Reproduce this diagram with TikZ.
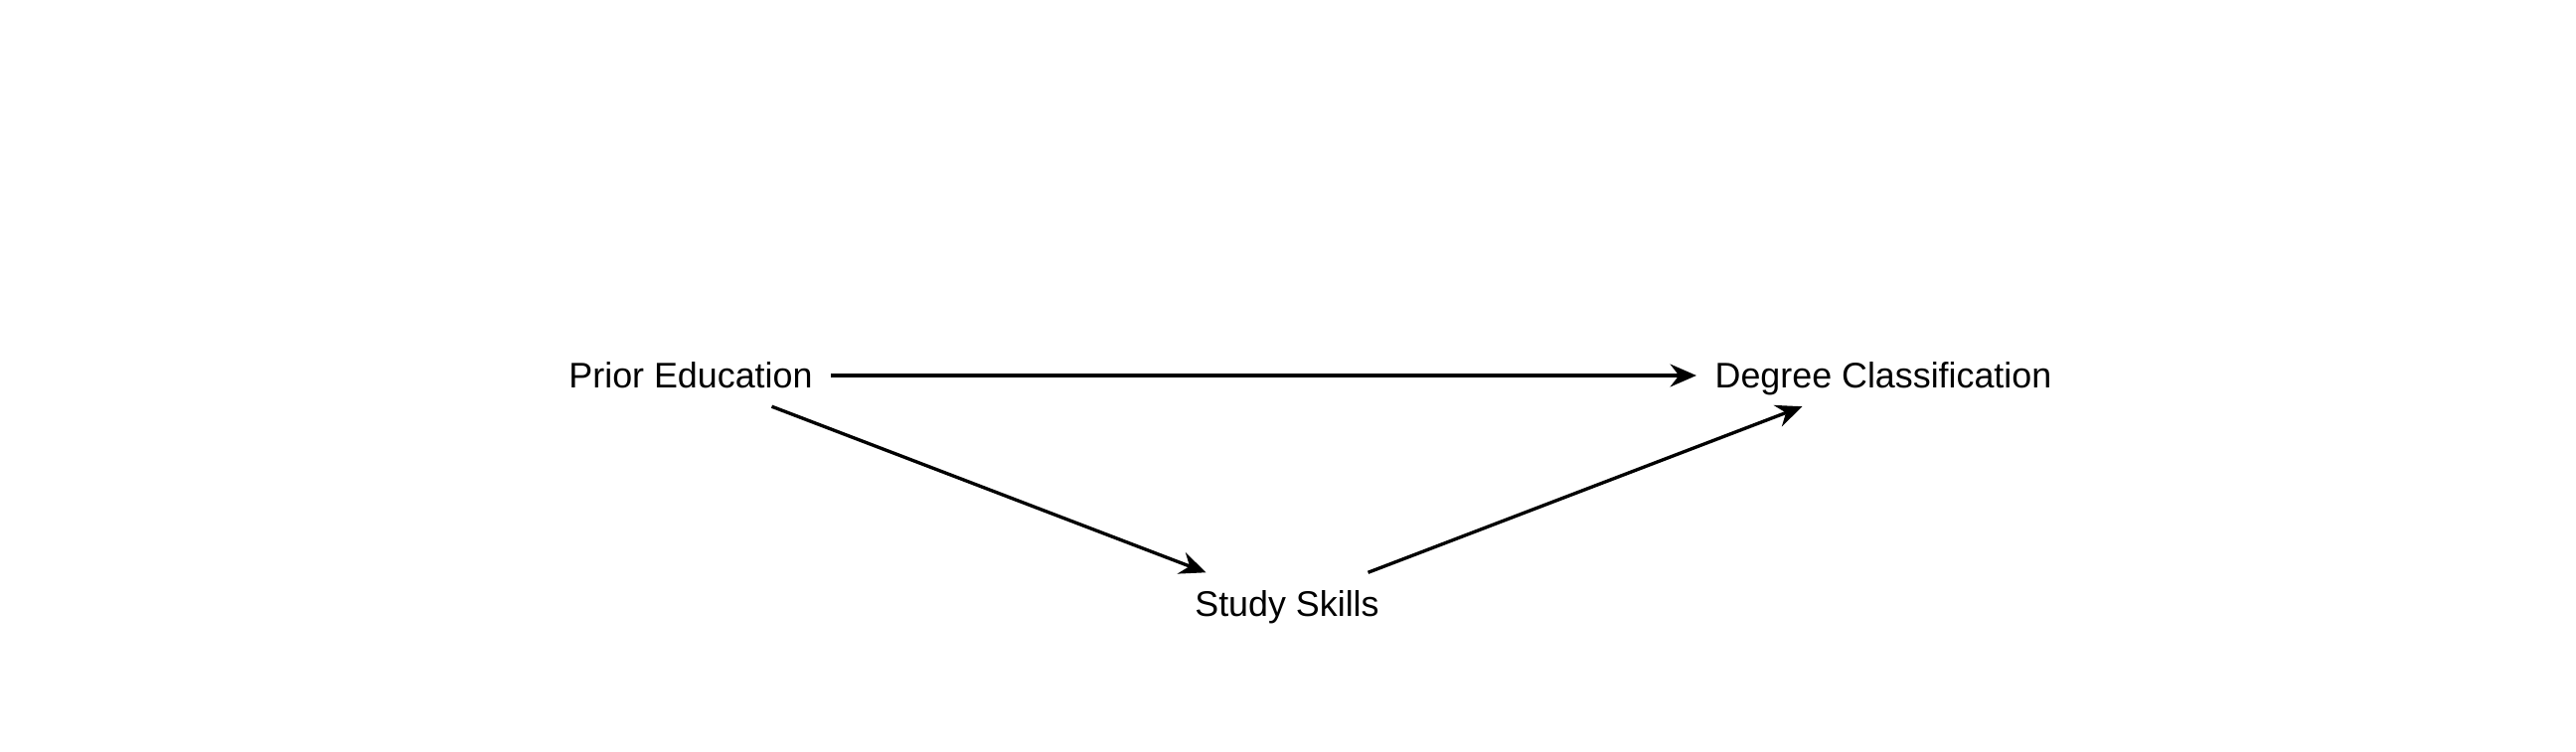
\documentclass[tikz,border=0pt]{standalone}
\usepackage{fontspec}
\setmainfont{Liberation Sans}
\usetikzlibrary{arrows.meta}
\begin{document}
\begin{tikzpicture}[auto,
    dagvar/.style ={inner sep=0.18cm, text height=0.25cm, text depth=0pt, font=\fontsize{10.2}{12}\selectfont},
    effect/.style ={line width=0.95pt, -{Stealth[length=7.5pt, width=6.5pt, inset=2.5pt]}}]
   \useasboundingbox (0,0) rectangle (25.92,7.56);
   \node[dagvar] (PE)  at (6.95,3.78)  {Prior Education};
   \node[dagvar] (DC)  at (18.95,3.78)  {Degree Classification};
   \node[dagvar] (SS)  at (12.95,1.485)  {Study Skills};
   \draw[effect] (PE) to   (DC);
   \draw[effect] (PE) to   (SS);
   \draw[effect] (SS) to   (DC);
 \end{tikzpicture}
\end{document}
